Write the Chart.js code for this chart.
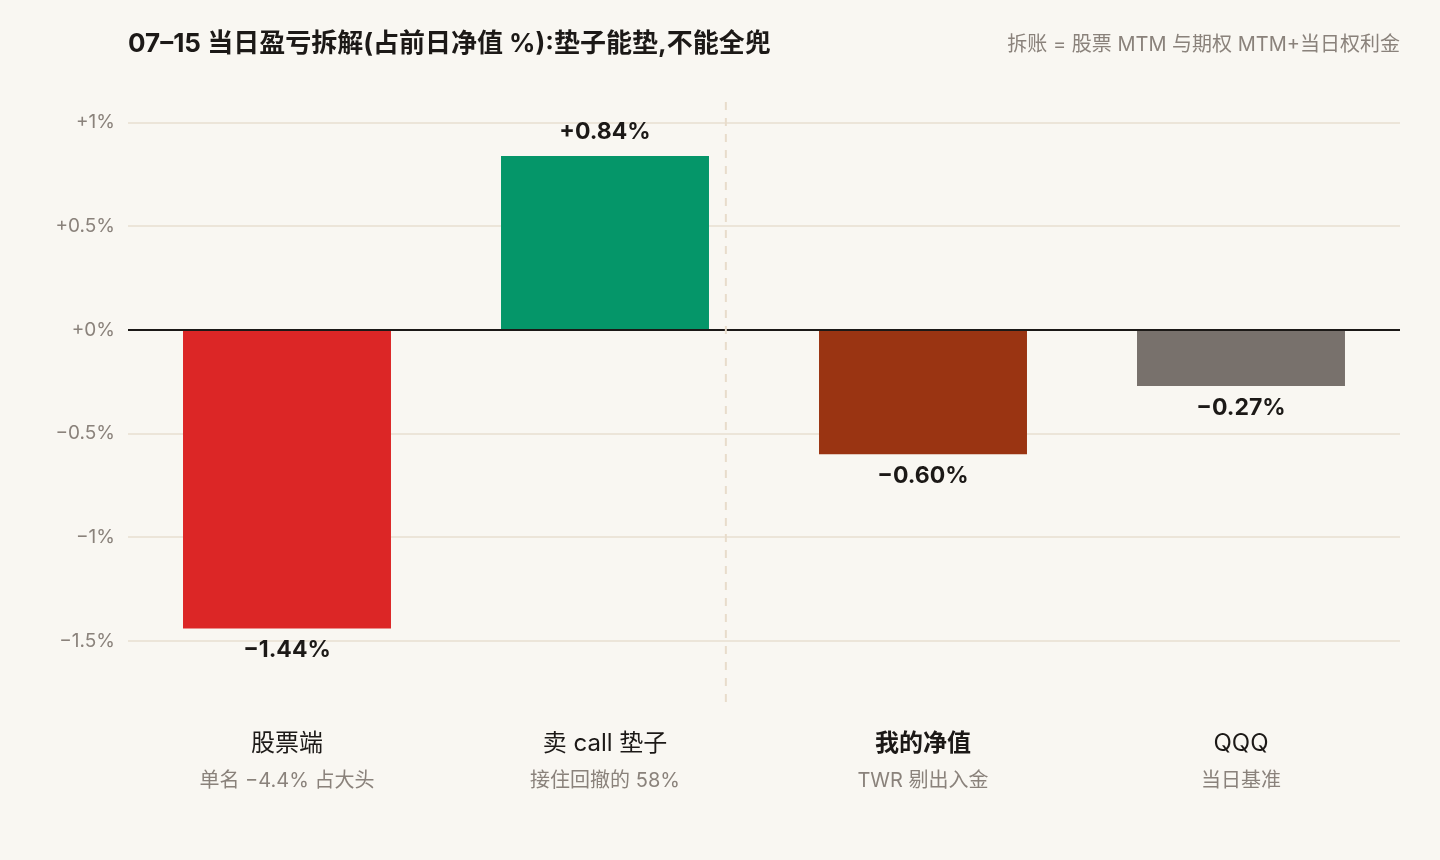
<!DOCTYPE html>
<html>
<head>
<meta charset="utf-8">
<script src="https://cdn.jsdelivr.net/npm/chart.js@4"></script>
<style>
  html, body { margin: 0; padding: 0; background: #F9F7F2; }
  canvas { display: block; }
</style>
</head>
<body>
<canvas id="pnl" width="1440" height="860"></canvas>
<script>
// ── data ──
const categories = ['股票端', '卖 call 垫子', '我的净值', 'QQQ'];
const subLabels = ['单名 −4.4% 占大头', '接住回撤的 58%', 'TWR 剔出入金', '当日基准'];
const values = [-1.44, 0.84, -0.60, -0.27];
const barColors = ['#DC2626', '#059669', '#9A3412', '#78716C'];
const tickValues = [1, 0.5, 0, -0.5, -1, -1.5];
const tickLabels = ['+1%', '+0.5%', '+0%', '−0.5%', '−1%', '−1.5%'];
const separatorAt = 1.38; // dashed divider between parts and totals

const FONT = 'Inter, "Noto Sans CJK SC", sans-serif';
const INK = '#1C1917';
const MUTED = '#8A827B';

function fmt(v) {
  return (v > 0 ? '+' : '−') + Math.abs(v).toFixed(2) + '%';
}

// background, title, zero line, divider, value labels, category labels
const decor = {
  id: 'decor',
  beforeDraw(chart) {
    const { ctx, width, height } = chart;
    ctx.save();
    ctx.fillStyle = '#F9F7F2';
    ctx.fillRect(0, 0, width, height);
    ctx.textBaseline = 'middle';
    ctx.fillStyle = INK;
    ctx.font = 'bold 26px ' + FONT;
    ctx.textAlign = 'left';
    ctx.fillText('07–15 当日盈亏拆解(占前日净值 %):垫子能垫,不能全兜', 128, 44);
    ctx.fillStyle = MUTED;
    ctx.font = '20px ' + FONT;
    ctx.textAlign = 'right';
    ctx.fillText('拆账 = 股票 MTM 与期权 MTM+当日权利金', 1400, 45);
    ctx.restore();
  },
  afterDatasetsDraw(chart) {
    const { ctx, chartArea, scales } = chart;
    const x = scales.x, y = scales.y;
    ctx.save();
    // zero line
    const y0 = y.getPixelForValue(0);
    ctx.strokeStyle = INK;
    ctx.lineWidth = 2;
    ctx.beginPath();
    ctx.moveTo(chartArea.left, y0);
    ctx.lineTo(chartArea.right, y0);
    ctx.stroke();
    // divider
    const xs = x.getPixelForValue(separatorAt);
    ctx.strokeStyle = '#E8DCCB';
    ctx.setLineDash([8, 8]);
    ctx.beginPath();
    ctx.moveTo(xs, chartArea.top);
    ctx.lineTo(xs, chartArea.bottom);
    ctx.stroke();
    ctx.setLineDash([]);
    // value labels
    const meta = chart.getDatasetMeta(0);
    ctx.fillStyle = INK;
    ctx.font = 'bold 23px ' + FONT;
    ctx.textAlign = 'center';
    ctx.textBaseline = 'middle';
    meta.data.forEach((bar, i) => {
      const v = values[i];
      const ty = v >= 0 ? bar.y - 24 : bar.y + 22;
      ctx.fillText(fmt(v), bar.x, ty);
    });
    // category labels
    categories.forEach((c, i) => {
      const cx = x.getPixelForValue(i);
      ctx.fillStyle = INK;
      ctx.font = (i === 2 ? 'bold ' : '') + '24px ' + FONT;
      ctx.fillText(c, cx, 744);
      ctx.fillStyle = MUTED;
      ctx.font = '20px ' + FONT;
      ctx.fillText(subLabels[i], cx, 781);
    });
    ctx.restore();
  }
};

new Chart(document.getElementById('pnl'), {
  type: 'bar',
  data: {
    labels: categories,
    datasets: [{
      data: values,
      backgroundColor: barColors,
      borderWidth: 0,
      barPercentage: 0.654,
      categoryPercentage: 1
    }]
  },
  options: {
    responsive: false,
    devicePixelRatio: 1,
    animation: false,
    layout: { padding: { top: 102, right: 40, bottom: 149, left: 0 } },
    plugins: {
      legend: { display: false },
      tooltip: { enabled: false }
    },
    scales: {
      x: {
        grid: { display: false },
        border: { display: false },
        ticks: { display: false }
      },
      y: {
        min: -1.8,
        max: 1.1,
        afterBuildTicks: s => { s.ticks = tickValues.map(v => ({ value: v })); },
        afterFit: s => { s.width = 128; },
        grid: {
          color: ctx => ctx.tick && ctx.tick.value === 0 ? 'rgba(0,0,0,0)' : '#ECE5D9',
          lineWidth: 2,
          drawTicks: false
        },
        border: { display: false },
        ticks: {
          padding: 13,
          color: MUTED,
          font: { family: FONT, size: 19 },
          callback: (v, i) => tickLabels[i]
        }
      }
    }
  },
  plugins: [decor]
});
</script>
</body>
</html>
